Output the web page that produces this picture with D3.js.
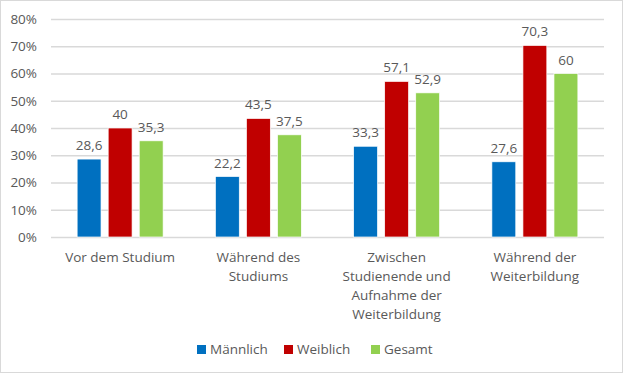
<!DOCTYPE html>
<html>
<head>
<meta charset="utf-8">
<script src="https://cdn.jsdelivr.net/npm/d3@7"></script>
<style>
  body { margin: 0; background: #fff; }
  svg text { font-family: "Open Sans", "Liberation Sans", sans-serif; fill: #595959; }
</style>
</head>
<body>
<svg id="chart" width="623" height="373"></svg>
<script>
// chart data
var categories = [
  ["Vor dem Studium"],
  ["Während des", "Studiums"],
  ["Zwischen", "Studienende und", "Aufnahme der", "Weiterbildung"],
  ["Während der", "Weiterbildung"]
];
var seriesNames = ["Männlich", "Weiblich", "Gesamt"];
var maennlich = [28.6, 22.2, 33.3, 27.6];
var weiblich = [40, 43.5, 57.1, 70.3];
var gesamt = [35.3, 37.5, 52.9, 60];
var yTicks = [0, 10, 20, 30, 40, 50, 60, 70, 80];

var colors = ["#0070C0", "#C00000", "#92D050"];
var series = [maennlich, weiblich, gesamt];

var W = 623, H = 373,
  m = {left: 51, right: 19, top: 19, bottom: 136};

var svg = d3.select("#chart");

// outer frame
svg.append("rect")
  .attr("x", 0.5).attr("y", 0.5)
  .attr("width", W - 1).attr("height", H - 1)
  .attr("fill", "#fff").attr("stroke", "#d9d9d9");

var x0 = d3.scaleBand()
  .domain(d3.range(categories.length))
  .range([m.left, W - m.right]);

var x1 = d3.scaleBand()
  .domain(d3.range(seriesNames.length))
  .range([0, 86])
  .paddingInner(0.23);

var y = d3.scaleLinear()
  .domain([0, 80])
  .range([H - m.bottom, m.top]);

// gridlines + y labels
var yAxis = d3.axisLeft(y)
  .tickValues(yTicks)
  .tickSize(-(W - m.left - m.right))
  .tickPadding(14)
  .tickFormat(function(d){ return d + "%"; });

var gy = svg.append("g")
  .attr("transform", "translate(" + m.left + ",0)")
  .call(yAxis);
gy.select(".domain").remove();
gy.selectAll(".tick line").attr("stroke", "#d9d9d9").attr("stroke-width", 1.3);
gy.selectAll(".tick text")
  .attr("font-size", "13.5px")
  .style("font-family", "'Open Sans', sans-serif")
  .attr("fill", "#595959");

// bars
var group = svg.append("g").selectAll("g")
  .data(categories)
  .join("g")
  .attr("transform", function(d, i){
    return "translate(" + (x0(i) + (x0.bandwidth() - 86) / 2) + ",0)";
  });

group.selectAll("rect")
  .data(function(d, i){
    return series.map(function(s, k){ return {k: k, v: s[i]}; });
  })
  .join("rect")
  .attr("x", function(d){ return x1(d.k); })
  .attr("y", function(d){ return y(d.v); })
  .attr("width", x1.bandwidth())
  .attr("height", function(d){ return y(0) - y(d.v); })
  .attr("fill", function(d){ return colors[d.k]; })
  .attr("stroke", "#fff")
  .attr("stroke-width", 0.7);

group.selectAll("text.val")
  .data(function(d, i){
    return series.map(function(s, k){ return {k: k, v: s[i]}; });
  })
  .join("text")
  .attr("class", "val")
  .attr("x", function(d){ return x1(d.k) + x1.bandwidth() / 2; })
  .attr("y", function(d){ return y(d.v) - 9; })
  .attr("text-anchor", "middle")
  .attr("font-size", "13.5px")
  .text(function(d){ return String(d.v).replace(".", ","); });

// category labels
svg.append("g").selectAll("text")
  .data(categories)
  .join("text")
  .attr("text-anchor", "middle")
  .attr("font-size", "13.5px")
  .attr("transform", function(d, i){
    return "translate(" + (x0(i) + x0.bandwidth() / 2) + "," + 262 + ")";
  })
  .selectAll("tspan")
  .data(function(d){ return d; })
  .join("tspan")
  .attr("x", 0)
  .attr("y", function(d, i){ return i * 19; })
  .text(function(d){ return d; });

// legend
var legendX = [197, 284, 371];
var legend = svg.append("g").selectAll("g")
  .data(seriesNames)
  .join("g")
  .attr("transform", function(d, i){ return "translate(" + legendX[i] + ",345)"; });

legend.append("rect")
  .attr("width", 9).attr("height", 9)
  .attr("fill", function(d, i){ return colors[i]; });

legend.append("text")
  .attr("x", 13)
  .attr("y", 9)
  .attr("font-size", "13.5px")
  .text(function(d){ return d; });
</script>
</body>
</html>
